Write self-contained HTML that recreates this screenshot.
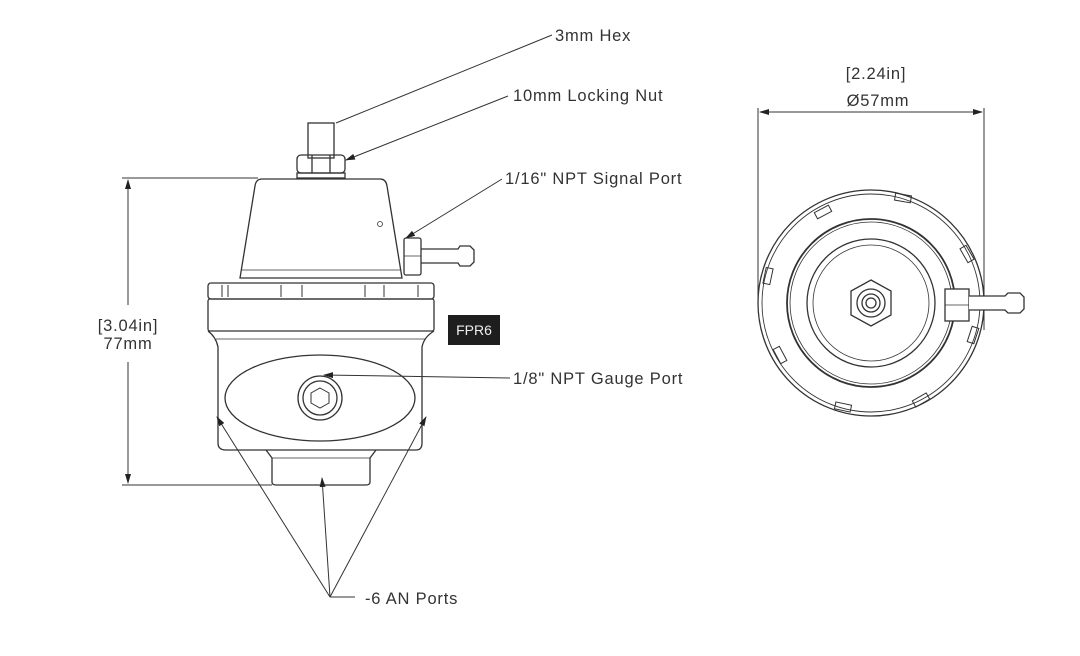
<!DOCTYPE html>
<html><head><meta charset="utf-8"><style>
body{margin:0;background:#fff;}
svg{display:block;}
text{font-family:"Liberation Sans",sans-serif;fill:#333;font-size:16.5px;letter-spacing:0.8px;}
</style></head><body>
<svg width="1080" height="656" viewBox="0 0 1080 656" xmlns="http://www.w3.org/2000/svg">
<defs>
<marker id="ar" markerWidth="10" markerHeight="6" refX="9" refY="3" orient="auto" markerUnits="userSpaceOnUse"><path d="M0,0 L10,3 L0,6z" fill="#222"/></marker>
</defs>
<g fill="none" stroke="#333" stroke-width="1.3">
<line x1="122" y1="178" x2="258" y2="178" stroke-width="1"/>
<line x1="122" y1="485" x2="272" y2="485" stroke-width="1"/>
<line x1="128" y1="305" x2="128" y2="180" marker-end="url(#ar)" stroke-width="1"/>
<line x1="128" y1="362" x2="128" y2="483" marker-end="url(#ar)" stroke-width="1"/>
<rect x="308" y="123" width="26" height="35"/>
<rect x="297" y="155" width="48" height="18" rx="4"/>
<line x1="312" y1="155" x2="312" y2="173"/><line x1="330" y1="155" x2="330" y2="173"/>
<rect x="297" y="173" width="48" height="5"/>
<path d="M262,179 L380,179 Q386,179 387,186 L402,278 L240,278 L255,186 Q256,179 262,179z"/>
<line x1="242" y1="270" x2="400" y2="270" stroke-width="0.8"/>
<circle cx="380" cy="224" r="2.5" stroke-width="0.8"/>
<rect x="404" y="238" width="17" height="37" rx="2"/>
<line x1="404" y1="256" x2="421" y2="256" stroke-width="0.8"/>
<path d="M421,249 L458,249 L460,246 L470,246 L474,250 L474,262 L470,266 L460,266 L458,263 L421,263"/>
<rect x="208" y="283" width="226" height="16" rx="3"/>
<path d="M222,285 V297 M228,285 V297 M281,285 V297 M302,285 V297 M365,285 V297 M384,285 V297 M418,285 V297" stroke-width="1"/>
<rect x="208" y="299" width="226" height="32" rx="2"/>
<path d="M208,331 Q216,337 218,347 L218,443 Q218,450 226,450 L416,450 Q422,450 422,443 L422,347 Q424,337 434,331"/>
<line x1="216" y1="339" x2="426" y2="339" stroke-width="0.8"/>
<ellipse cx="320" cy="398" rx="95" ry="43"/>
<circle cx="320" cy="398" r="22"/><circle cx="320" cy="398" r="17"/>
<polygon points="320,388 329,393 329,403 320,408 311,403 311,393" stroke-width="1"/>
<path d="M266,450 L272,458 L272,482 Q272,485 276,485 L366,485 Q370,485 370,482 L370,458 L376,450"/>
<line x1="272" y1="458" x2="370" y2="458" stroke-width="0.8"/>
<line x1="552" y1="35" x2="336" y2="123" stroke-width="1"/>
<line x1="508" y1="96" x2="346" y2="160" marker-end="url(#ar)" stroke-width="1"/>
<line x1="502" y1="179" x2="406" y2="238" marker-end="url(#ar)" stroke-width="1"/>
<line x1="510" y1="378" x2="324" y2="375" marker-end="url(#ar)" stroke-width="1"/>
<line x1="330" y1="597" x2="217" y2="417" marker-end="url(#ar)" stroke-width="1"/>
<line x1="330" y1="597" x2="322" y2="478" marker-end="url(#ar)" stroke-width="1"/>
<line x1="330" y1="597" x2="426" y2="417" marker-end="url(#ar)" stroke-width="1"/>
<line x1="330" y1="597" x2="355" y2="597" stroke-width="1"/>
<line x1="758" y1="108" x2="758" y2="300" stroke-width="1"/>
<line x1="984" y1="108" x2="984" y2="330" stroke-width="1"/>
<line x1="871" y1="112" x2="760" y2="112" marker-end="url(#ar)" stroke-width="1"/>
<line x1="871" y1="112" x2="982" y2="112" marker-end="url(#ar)" stroke-width="1"/>
<circle cx="871" cy="303" r="113"/>
<circle cx="871" cy="303" r="109" stroke-width="0.9"/>
<circle cx="871" cy="303" r="84" stroke-width="1.8"/>
<circle cx="871" cy="303" r="81" stroke-width="0.8"/>
<circle cx="871" cy="303" r="64"/>
<circle cx="871" cy="303" r="58" stroke-width="0.8"/>
<polygon points="871,280 891,291 891,315 871,326 851,315 851,291"/>
<circle cx="871" cy="303" r="14"/><circle cx="871" cy="303" r="9"/><circle cx="871" cy="303" r="5"/>
<g stroke-width="1">
<rect x="-8" y="-3.5" width="16" height="7" transform="translate(903,198) rotate(10)"/>
<rect x="-8" y="-3.5" width="16" height="7" transform="translate(823,212) rotate(-28)"/>
<rect x="-8" y="-3.5" width="16" height="7" transform="translate(768,276) rotate(-78)"/>
<rect x="-8" y="-3.5" width="16" height="7" transform="translate(780,355) rotate(62)"/>
<rect x="-8" y="-3.5" width="16" height="7" transform="translate(843,407) rotate(12)"/>
<rect x="-8" y="-3.5" width="16" height="7" transform="translate(921,400) rotate(-30)"/>
<rect x="-8" y="-3.5" width="16" height="7" transform="translate(973,335) rotate(-72)"/>
<rect x="-8" y="-3.5" width="16" height="7" transform="translate(967,254) rotate(60)"/>
</g>
<rect x="945" y="289" width="24" height="32" fill="#fff"/>
<line x1="945" y1="305" x2="969" y2="305" stroke-width="0.8"/>
<path d="M969,296 L1005,296 L1008,293 L1020,293 L1024,297 L1024,309 L1020,313 L1008,313 L1005,310 L969,310" fill="#fff"/>
</g>
<rect x="448" y="315" width="52" height="30" fill="#1e1e1e"/>
<text x="474" y="335" text-anchor="middle" style="fill:#eee;font-size:14px;letter-spacing:0">FPR6</text>
<text x="555" y="41">3mm Hex</text>
<text x="513" y="101">10mm Locking Nut</text>
<text x="505" y="184">1/16" NPT Signal Port</text>
<text x="513" y="384">1/8" NPT Gauge Port</text>
<text x="365" y="604">-6 AN Ports</text>
<text x="128" y="331" text-anchor="middle">[3.04in]</text>
<text x="128" y="349" text-anchor="middle">77mm</text>
<text x="876" y="79" text-anchor="middle">[2.24in]</text>
<text x="878" y="106" text-anchor="middle">Ø57mm</text>
</svg>
</body></html>
